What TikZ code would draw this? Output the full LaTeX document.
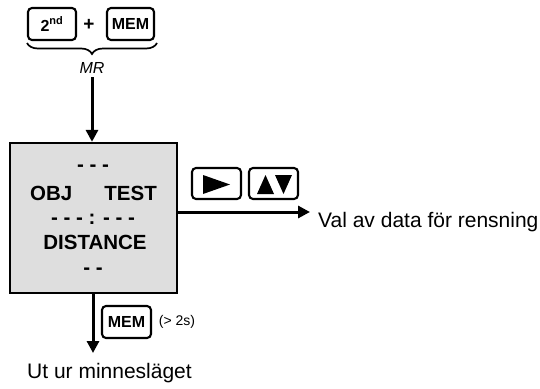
\documentclass[tikz,border=0pt]{standalone}
\usepackage{fontspec}
\setmainfont{Liberation Sans}
\usetikzlibrary{arrows.meta,decorations.pathreplacing}
\tikzset{
  keybox/.style={draw, line width=2.1pt, rounded corners=4pt, inner sep=0pt, font=\bfseries\fontsize{16}{18}\selectfont},
  conn/.style={line width=3pt, -{Triangle[length=12pt,width=12pt]}},
  boxtxt/.style={anchor=base, inner sep=0pt, font=\bfseries\fontsize{20.5}{24}\selectfont},
  plain/.style={inner sep=0pt, font=\fontsize{21}{24}\selectfont},
}
\begin{document}
\begin{tikzpicture}[x=1pt,y=-1pt]
\useasboundingbox (0,0) rectangle (540,388);
% top keys
\node[keybox, minimum width=48pt, minimum height=32pt] (k2nd) at (52,24) {2\textsuperscript{\fontsize{11}{11}\selectfont nd}};
\node[inner sep=0pt, font=\bfseries\fontsize{19}{20}\selectfont] (plus) at (89,25) {+};
\node[keybox, minimum width=47pt, minimum height=32pt] (kmem) at (130.5,24) {MEM};
\coordinate (brL) at (27,43);
\coordinate (brR) at (157,43);
\draw[line width=1.7pt, decorate, decoration={brace, mirror, amplitude=11pt}] (brL) -- (brR);
\node[inner sep=0pt, font=\itshape\fontsize{16}{18}\selectfont] (mr) at (92,68) {MR};
% main box
\node[draw, line width=2.3pt, fill=black!13, minimum width=167pt, minimum height=150pt, inner sep=0pt] (box) at (93.5,218) {};
\coordinate (mrb) at (92,77);
\draw[conn] (mrb) -- (box.north -| mrb);
\node[boxtxt] (d1) at (93,171) {- - -};
\node[boxtxt, anchor=base west] (obj) at (30,200) {OBJ};
\node[boxtxt, anchor=base east] (test) at (157,200) {TEST};
\node[boxtxt] (d2) at (93,224) {- - - : - - -};
\node[boxtxt] (dist) at (95,249) {DISTANCE};
\node[boxtxt] (d3) at (93,274) {- -};
% right keys
\node[keybox, minimum width=49pt, minimum height=31pt] (kright) at (216.5,183.5) {};
\node[keybox, minimum width=49pt, minimum height=31pt] (kud) at (273.5,183.5) {};
\fill (203,175) -- (230,184.5) -- (203,194) -- cycle;
\fill (257,194) -- (265.5,175) -- (274,194) -- cycle;
\fill (275,175) -- (292,175) -- (283.5,194) -- cycle;
% right arrow
\coordinate (rend) at (310,212);
\draw[conn] (box.east |- rend) -- (rend);
\node[plain, anchor=base west] (val) at (318,227) {Val av data för rensning};
% down arrow
\coordinate (dend) at (93,353);
\draw[conn] (box.south -| dend) -- (dend);
\node[keybox, minimum width=49pt, minimum height=32pt] (kmem2) at (126.5,322) {MEM};
\node[inner sep=0pt, font=\fontsize{14}{16}\selectfont] (time) at (177,322) {(> 2s)};
\node[plain, anchor=base] (ut) at (109.5,378) {Ut ur minnesläget};
\end{tikzpicture}
\end{document}
